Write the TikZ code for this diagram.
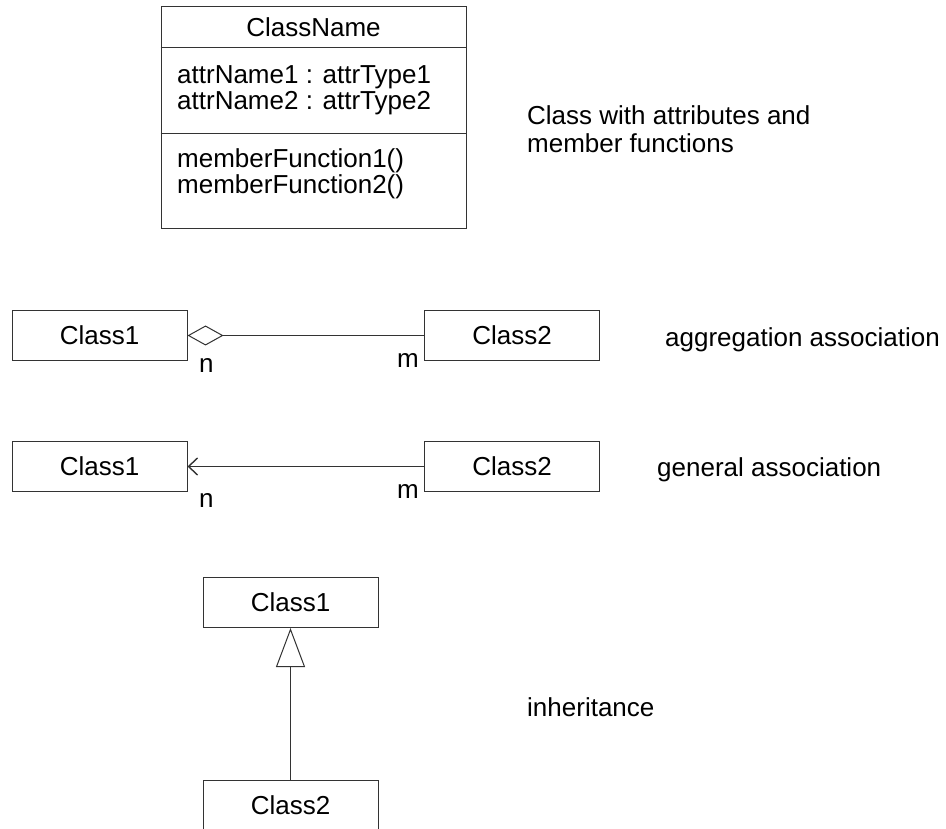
\documentclass[tikz,border=0pt]{standalone}
\usepackage{fontspec}
\setmainfont{Liberation Sans}
\usetikzlibrary{arrows.meta}
\begin{document}
\begin{tikzpicture}[x=1pt,y=-1pt,
  umlline/.style={draw=black!80, line width=1pt},
  umlfont/.style={font=\fontsize{26}{28}\selectfont},
  classbox/.style={umlline, umlfont, minimum width=175pt, minimum height=50pt, inner sep=0pt},
  lefttext/.style={umlfont, inner sep=0pt, anchor=base west},
  midtext/.style={umlfont, inner sep=0pt, anchor=base}]
\useasboundingbox (0,0) rectangle (946,829);

% class with attributes and member functions
\node[umlline, minimum width=305pt, minimum height=222pt, inner sep=0pt] (cls) at (313.5,118) {};
\coordinate (div1) at (0,48);
\coordinate (div2) at (0,134);
\draw[umlline] (cls.west |- div1) -- (cls.east |- div1);
\draw[umlline] (cls.west |- div2) -- (cls.east |- div2);
\node[midtext] (cname) at (313.5,37) {ClassName};
\node[lefttext] (attr1) at (177,84) {attrName1 : attrType1};
\node[lefttext] (attr2) at (177,110) {attrName2 : attrType2};
\node[lefttext] (func1) at (177,168) {memberFunction1()};
\node[lefttext] (func2) at (177,194) {memberFunction2()};
\node[lefttext] (clsnote1) at (527,125) {Class with attributes and};
\node[lefttext] (clsnote2) at (527,153) {member functions};

% aggregation association
\node[classbox] (agg1) at (99.5,335.5) {Class1};
\node[classbox] (agg2) at (512,335.5) {Class2};
\draw[umlline, {Diamond[open,length=36pt,width=20pt]}-] (agg1.east) -- (agg2.west);
\node[lefttext] (aggn) at (199,372) {n};
\node[lefttext] (aggm) at (397,367) {m};
\node[lefttext] (aggnote) at (665,346) {aggregation association};

% general association
\node[classbox] (gen1) at (99.5,466.5) {Class1};
\node[classbox] (gen2) at (512,466.5) {Class2};
\draw[umlline, {Straight Barb[length=9pt,width=17pt,line width=1.4pt]}-] (gen1.east) -- (gen2.west);
\node[lefttext] (genn) at (199,507) {n};
\node[lefttext] (genm) at (397,498) {m};
\node[lefttext] (gennote) at (657,476) {general association};

% inheritance
\node[classbox] (inh1) at (290.5,602.5) {Class1};
\node[classbox] (inh2) at (290.5,805.5) {Class2};
\draw[umlline, {Triangle[open,length=39pt,width=29pt]}-] (inh1.south) -- (inh2.north);
\node[lefttext] (inhnote) at (527,716) {inheritance};
\end{tikzpicture}
\end{document}
